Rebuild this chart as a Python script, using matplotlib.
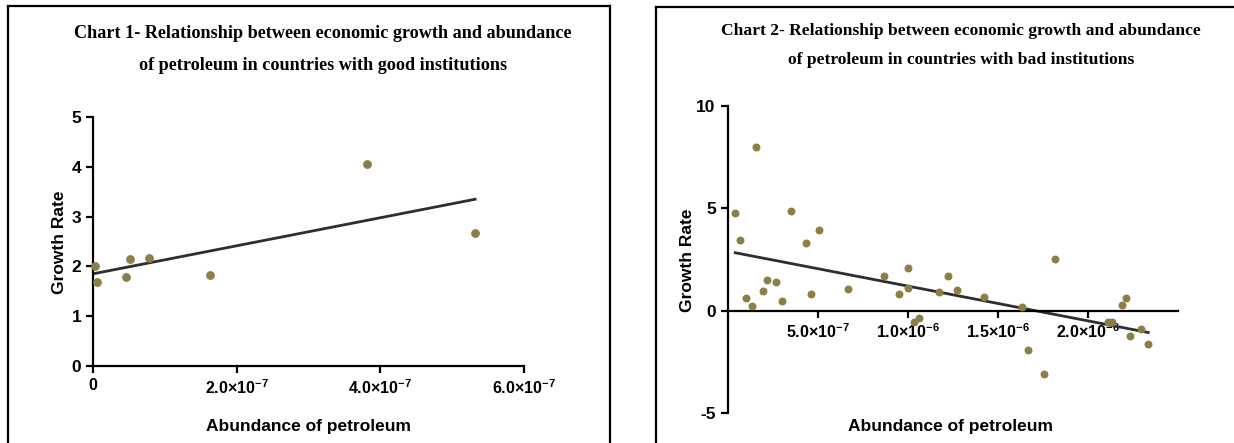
import numpy as np
import matplotlib.pyplot as plt
from matplotlib.lines import Line2D

plt.rcParams['font.family'] = 'Liberation Sans'
plt.rcParams['mathtext.fontset'] = 'custom'
plt.rcParams['mathtext.rm'] = 'Liberation Sans'
plt.rcParams['mathtext.bf'] = 'Liberation Sans:bold'
plt.rcParams['axes.unicode_minus'] = False

# chart 1 - good institutions (abundance in units of 1e-7)
good_abundance = np.array([0.03, 0.06, 0.46, 0.52, 0.78, 1.63, 3.82, 5.32]) * 1e-7
good_growth = np.array([2.01, 1.69, 1.79, 2.15, 2.17, 1.82, 4.05, 2.68])
good_xticks = [0, 2e-7, 4e-7, 6e-7]
good_xlabels = ['0', r'$\mathbf{2.0{\times}10^{-7}}$', r'$\mathbf{4.0{\times}10^{-7}}$',
                r'$\mathbf{6.0{\times}10^{-7}}$']
good_yticks = [0, 1, 2, 3, 4, 5]

# chart 2 - bad institutions (abundance in units of 1e-7)
bad_abundance = np.array([0.43, 0.71, 1.03, 1.36, 1.59, 1.96, 2.2, 2.7, 3.01, 3.51,
                          4.36, 4.61, 5.09, 6.66, 8.67, 9.52, 9.99, 10.0, 10.33, 10.62,
                          11.73, 12.22, 12.71, 14.22, 16.34, 16.67, 17.54, 18.16, 21.1, 21.35,
                          21.9, 22.1, 22.35, 22.95, 23.35]) * 1e-7
bad_growth = np.array([4.78, 3.46, 0.64, 0.21, 7.98, 0.96, 1.51, 1.40, 0.48, 4.88,
                       3.33, 0.82, 3.93, 1.05, 1.70, 0.83, 2.08, 1.13, -0.54, -0.34,
                       0.90, 1.69, 1.02, 0.66, 0.18, -1.92, -3.11, 2.52, -0.57, -0.57,
                       0.28, 0.60, -1.25, -0.90, -1.63])
bad_xticks = [5e-7, 1e-6, 1.5e-6, 2e-6]
bad_xlabels = [r'$\mathbf{5.0{\times}10^{-7}}$', r'$\mathbf{1.0{\times}10^{-6}}$',
               r'$\mathbf{1.5{\times}10^{-6}}$', r'$\mathbf{2.0{\times}10^{-6}}$']
bad_yticks = [-5, 0, 5, 10]

dot_color = '#8c7f45'
line_color = '#2e2e2e'
W, H = 1234, 443

fig = plt.figure(figsize=(W / 100, H / 100), dpi=100)


def px(x, y):
    return x / W, 1 - y / H


def frame(x0, x1, y0):
    for xs, ys in [([x0, x0], [y0, H + 5]), ([x0, x1], [y0, y0]), ([x1, x1], [y0, H + 5])]:
        fig.add_artist(Line2D([x / W for x in xs], [1 - y / H for y in ys],
                              transform=fig.transFigure, color='black', lw=1.6))


def style_axes(ax):
    for s in ['top', 'right']:
        ax.spines[s].set_visible(False)
    for s in ['left', 'bottom']:
        ax.spines[s].set_linewidth(1.6)
    ax.tick_params(width=1.6, length=5, labelsize=12.5, direction='out')
    for lab in ax.get_yticklabels():
        lab.set_fontweight('bold')


def fit_line(x, y):
    k, b = np.polyfit(x, y, 1)
    xx = np.array([x.min(), x.max()])
    return xx, k * xx + b


def title(x, y, s, size):
    fig.text(*px(x, y), s, family='Liberation Serif', fontweight='bold', fontsize=size,
             ha='center', va='center')


def label(x, y, s, rot=0):
    fig.text(*px(x, y), s, fontsize=12.5, fontweight='bold', ha='center', va='center',
             rotation=rot)


frame(8, 610, 6)
frame(656, W + 10, 7)

# chart 1
ax1 = fig.add_axes([93 / W, 1 - 366 / H, (524 - 93) / W, (366 - 117) / H])
fx, fy = fit_line(good_abundance, good_growth)
ax1.plot(fx, fy, color=line_color, lw=2, zorder=2)
ax1.scatter(good_abundance, good_growth, s=28, color=dot_color, zorder=3, clip_on=False)
ax1.set_xlim(0, 6e-7)
ax1.set_ylim(0, 5)
ax1.set_xticks(good_xticks)
ax1.set_yticks(good_yticks)
style_axes(ax1)
ax1.set_xticklabels(good_xlabels, fontsize=11.5, fontweight='bold')
label(60, 242, 'Growth Rate', 90)
label(308, 427, 'Abundance of petroleum')
title(323, 34, 'Chart 1- Relationship between economic growth and abundance', 13.1)
title(323, 65, 'of petroleum in countries with good institutions', 13.1)

# chart 2
ax2 = fig.add_axes([727.5 / W, 1 - 413 / H, (1178 - 727.5) / W, (413 - 106) / H])
fx, fy = fit_line(bad_abundance, bad_growth)
ax2.plot(fx, fy, color=line_color, lw=2, zorder=2)
ax2.scatter(bad_abundance, bad_growth, s=22, color=dot_color, zorder=3, clip_on=False)
ax2.set_xlim(0, 2.5e-6)
ax2.set_ylim(-5, 10)
ax2.spines['bottom'].set_position(('data', 0))
ax2.set_xticks(bad_xticks)
ax2.set_yticks(bad_yticks)
style_axes(ax2)
ax2.set_xticklabels(bad_xlabels, fontsize=11.5, fontweight='bold')
label(687, 260, 'Growth Rate', 90)
label(951, 426, 'Abundance of petroleum')
title(961, 31, 'Chart 2- Relationship between economic growth and abundance', 12.6)
title(961, 60, 'of petroleum in countries with bad institutions', 12.6)

fig.savefig('out.png', dpi=100, facecolor='white')
